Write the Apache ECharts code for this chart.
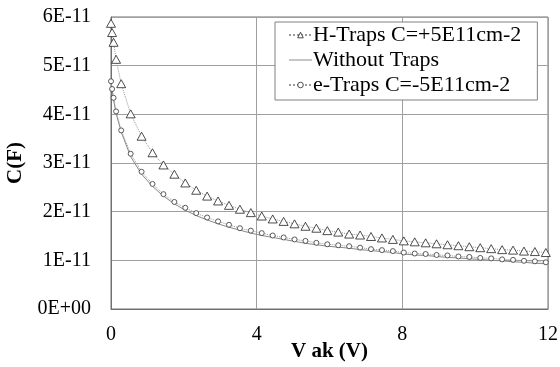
<!DOCTYPE html>
<html>
<head>
<meta charset="utf-8">
<script src="https://cdn.jsdelivr.net/npm/echarts@6/dist/echarts.min.js"></script>
<style>
html,body{margin:0;padding:0;background:#fff;}
#chart{width:560px;height:367px;}
</style>
</head>
<body>
<div id="chart"></div>
<script>
// Anode-cathode voltage (V)
var vak = [0, 0.03, 0.07, 0.14, 0.28, 0.54, 0.84, 1.14, 1.44, 1.74, 2.04, 2.34, 2.64, 2.94, 3.24, 3.54, 3.84, 4.14, 4.44, 4.74, 5.04, 5.34, 5.64, 5.94, 6.24, 6.54, 6.84, 7.14, 7.44, 7.74, 8.04, 8.34, 8.64, 8.94, 9.24, 9.54, 9.84, 10.14, 10.44, 10.74, 11.04, 11.34, 11.64, 11.94];
// Capacitance in units of 1E-11 F
var hTraps = [5.87, 5.68, 5.48, 5.13, 4.63, 4.01, 3.55, 3.21, 2.96, 2.77, 2.59, 2.44, 2.32, 2.22, 2.13, 2.05, 1.98, 1.91, 1.85, 1.80, 1.75, 1.70, 1.66, 1.61, 1.58, 1.54, 1.52, 1.49, 1.46, 1.43, 1.40, 1.38, 1.36, 1.34, 1.32, 1.30, 1.28, 1.26, 1.24, 1.22, 1.21, 1.19, 1.18, 1.16];
var noTraps = [4.70, 4.50, 4.30, 4.02, 3.64, 3.13, 2.77, 2.52, 2.32, 2.16, 2.03, 1.92, 1.83, 1.75, 1.68, 1.62, 1.56, 1.51, 1.47, 1.43, 1.39, 1.35, 1.32, 1.29, 1.27, 1.25, 1.22, 1.20, 1.18, 1.16, 1.13, 1.11, 1.10, 1.08, 1.06, 1.05, 1.03, 1.02, 1.00, 0.99, 0.97, 0.96, 0.94, 0.93];
var eTraps = [4.68, 4.52, 4.34, 4.06, 3.67, 3.19, 2.82, 2.57, 2.36, 2.20, 2.08, 1.97, 1.88, 1.80, 1.73, 1.66, 1.61, 1.56, 1.51, 1.47, 1.43, 1.40, 1.36, 1.33, 1.31, 1.29, 1.26, 1.23, 1.21, 1.19, 1.16, 1.14, 1.13, 1.11, 1.10, 1.08, 1.07, 1.05, 1.04, 1.02, 1.01, 0.99, 0.98, 0.96];
var yTicks = ['0E+00', '1E-11', '2E-11', '3E-11', '4E-11', '5E-11', '6E-11'];
var seriesNames = ['H-Traps C=+5E11cm-2', 'Without Traps', 'e-Traps C=-5E11cm-2'];

function pairs(ys) { return vak.map(function (v, i) { return [v, ys[i]]; }); }

var serif = 'Liberation Serif, Times New Roman, serif';
var openMarker = {color: '#fff', borderColor: '#222', borderWidth: 0.8};
var chart = echarts.init(document.getElementById('chart'), null, {renderer: 'canvas'});
chart.setOption({
  animation: false,
  backgroundColor: '#fff',
  grid: {left: 111, right: 12, top: 17, bottom: 58, show: true, borderColor: '#707070', borderWidth: 1,
         containLabel: false, outerBoundsMode: 'none'},
  legend: {
    orient: 'vertical',
    left: 275, top: 22,
    data: [
      {name: seriesNames[0], itemStyle: openMarker},
      {name: seriesNames[1], icon: 'path://M0,0h24v1h-24z', itemStyle: {color: '#888'}},
      {name: seriesNames[2], itemStyle: openMarker}
    ],
    backgroundColor: '#fff',
    borderColor: '#808080', borderWidth: 1,
    padding: [2, 16, 4, 13],
    itemGap: 3,
    itemWidth: 23, itemHeight: 7,
    textStyle: {fontFamily: serif, fontSize: 22, lineHeight: 22, color: '#000', padding: [0, 0, 0, -4]}
  },
  xAxis: {
    type: 'value', min: 0, max: 12, interval: 4,
    name: 'V ak (V)', nameLocation: 'middle', nameGap: 32, nameMoveOverlap: false,
    nameTextStyle: {fontFamily: serif, fontSize: 21, fontWeight: 'bold', color: '#000'},
    axisLine: {show: true, lineStyle: {color: '#707070'}},
    axisTick: {show: false},
    axisLabel: {fontFamily: serif, fontSize: 20, color: '#000', margin: 16},
    splitLine: {show: true, lineStyle: {color: '#a0a0a0', width: 1}}
  },
  yAxis: {
    type: 'value', min: 0, max: 6, interval: 1,
    name: 'C(F)', nameLocation: 'middle', nameGap: 85, nameRotate: 90,
    nameTextStyle: {fontFamily: serif, fontSize: 21, fontWeight: 'bold', color: '#000'},
    axisLine: {show: true, lineStyle: {color: '#707070'}},
    axisTick: {show: false},
    axisLabel: {fontFamily: serif, fontSize: 20, color: '#000', margin: 20,
      formatter: function (v) { return yTicks[Math.round(v)]; }},
    splitLine: {show: true, lineStyle: {color: '#a0a0a0', width: 1}}
  },
  series: [
    {
      name: seriesNames[0], type: 'line', data: pairs(hTraps),
      symbol: 'triangle', symbolSize: [9, 8],
      itemStyle: openMarker,
      lineStyle: {color: '#999', width: 1, type: 'dotted'}, z: 3
    },
    {
      name: seriesNames[1], type: 'line', data: pairs(noTraps),
      symbol: 'none', showSymbol: false,
      itemStyle: {color: '#888'},
      lineStyle: {color: '#888', width: 1, type: 'solid'}, z: 2
    },
    {
      name: seriesNames[2], type: 'line', data: pairs(eTraps),
      symbol: 'circle', symbolSize: 5,
      itemStyle: {color: '#fff', borderColor: '#333', borderWidth: 0.8},
      lineStyle: {color: '#999', width: 1, type: 'dotted'}, z: 3
    }
  ]
});
</script>
</body>
</html>
